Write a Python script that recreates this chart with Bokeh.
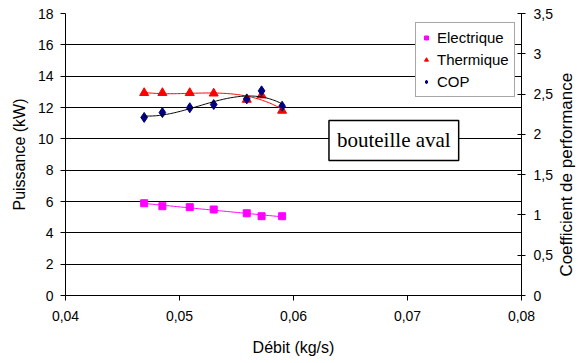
import numpy as np
from bokeh.plotting import figure
from bokeh.models import (Range1d, LinearAxis, FixedTicker, CustomJSTickFormatter,
                          Legend, LegendItem, Label)
from bokeh.embed import file_html
from bokeh.resources import INLINE

# ---- data ----
debit = [0.0469, 0.0485, 0.0509, 0.0530, 0.0559, 0.0572, 0.0590]
electrique = [5.89, 5.70, 5.64, 5.49, 5.25, 5.06, 5.06]
thermique = [12.93, 12.93, 12.93, 12.90, 12.50, 12.78, 11.80]
cop = [2.21, 2.27, 2.33, 2.37, 2.44, 2.54, 2.35]

x_ticks = [0.04, 0.05, 0.06, 0.07, 0.08]
left_ticks = [0, 2, 4, 6, 8, 10, 12, 14, 16, 18]
right_ticks = [0, 0.5, 1, 1.5, 2, 2.5, 3, 3.5]

FONT = "Liberation Sans"

p = figure(width=588, height=363, output_backend="svg", toolbar_location=None,
           x_range=Range1d(0.04, 0.08), y_range=Range1d(0, 18),
           min_border_left=65, min_border_right=65, min_border_top=13, min_border_bottom=68)
p.extra_y_ranges = {"cop": Range1d(0, 3.5)}
p.outline_line_color = None
p.background_fill_color = "white"
p.border_fill_color = "white"

# grid
p.xgrid.grid_line_color = None
p.ygrid.grid_line_color = "#000000"
p.ygrid.grid_line_width = 1
p.ygrid.ticker = FixedTicker(ticks=left_ticks)

# x axis
xa = p.xaxis[0]
xa.ticker = FixedTicker(ticks=x_ticks)
xa.formatter = CustomJSTickFormatter(code="return tick.toFixed(2).replace('.', ',');")
xa.axis_label = "Débit (kg/s)"

# left axis
ya = p.yaxis[0]
ya.ticker = FixedTicker(ticks=left_ticks)
ya.axis_label = "Puissance (kW)"

# right axis (title reads bottom-to-top; non-breaking spaces lift it to the reference spot)
ra = LinearAxis(y_range_name="cop", axis_label="\u00a0\u00a0\u00a0\u00a0Coefficient de performance")
ra.ticker = FixedTicker(ticks=right_ticks)
ra.formatter = CustomJSTickFormatter(
    code="return (Math.abs(tick % 1) < 1e-9) ? tick.toFixed(0) : tick.toFixed(1).replace('.', ',');")
ra.axis_label_orientation = np.pi / 2
try:
    ra.axis_label_align = "start"
except Exception:
    pass
p.add_layout(ra, "right")

for ax in (xa, ya, ra):
    ax.axis_line_color = "black"
    ax.major_tick_line_color = "black"
    ax.minor_tick_line_color = None
    ax.major_label_text_font = FONT
    ax.major_label_text_font_size = "14px"
    ax.major_label_text_color = "black"
    ax.axis_label_text_font = FONT
    ax.axis_label_text_font_size = "16px"
    ax.axis_label_text_font_style = "normal"
    ax.axis_label_text_color = "black"

ra.axis_label_text_font_size = "17px"

xa.major_tick_in = 0
xa.major_tick_out = 5
xa.major_label_standoff = 10
xa.axis_label_standoff = 15

ya.major_tick_in = 0
ya.major_tick_out = 5
ya.major_label_standoff = 7
ya.axis_label_standoff = 7

ra.major_tick_in = 4
ra.major_tick_out = 4
ra.major_label_standoff = 8
ra.axis_label_standoff = 11

# markers
r_el = p.scatter(debit, electrique, marker="square", size=7, color="#FF00FF")
r_th = p.scatter(debit, thermique, marker="triangle", size=9, color="#FF0000")
r_cop = p.scatter(debit, cop, marker="diamond", size=10, color="#000080", y_range_name="cop")

# trend lines (fits of the data)
xs = np.linspace(min(debit), max(debit), 100)
p.line(xs, np.polyval(np.polyfit(debit, electrique, 1), xs), line_color="#FF00FF", line_width=1)
p.line(xs, np.polyval(np.polyfit(debit, thermique, 3), xs), line_color="#FF0000", line_width=1)
p.line(xs, np.polyval(np.polyfit(debit, cop, 3), xs), line_color="black", line_width=1,
       y_range_name="cop")

legend = Legend(items=[LegendItem(label="Electrique", renderers=[r_el]),
                       LegendItem(label="Thermique", renderers=[r_th]),
                       LegendItem(label="COP", renderers=[r_cop])],
                location=(350, 198))
legend.label_text_font = FONT
legend.label_text_font_size = "15px"
legend.label_text_color = "black"
legend.glyph_width = 10
legend.glyph_height = 19
legend.label_height = 19
legend.label_standoff = 6
legend.spacing = 3
legend.padding = 5
legend.margin = 0
legend.border_line_color = "#505050"
legend.border_line_width = 1
legend.background_fill_color = "white"
legend.background_fill_alpha = 1
p.add_layout(legend, "center")

lab = Label(x=0.0688, y=9.9, text="bouteille aval", text_align="center", text_baseline="middle",
            text_font="Liberation Serif", text_font_size="21px", text_color="black",
            padding=8, border_line_color="black", border_line_width=1.5,
            background_fill_color="white", background_fill_alpha=1)
p.add_layout(lab)

open("out.html", "w").write(file_html(p, INLINE))
